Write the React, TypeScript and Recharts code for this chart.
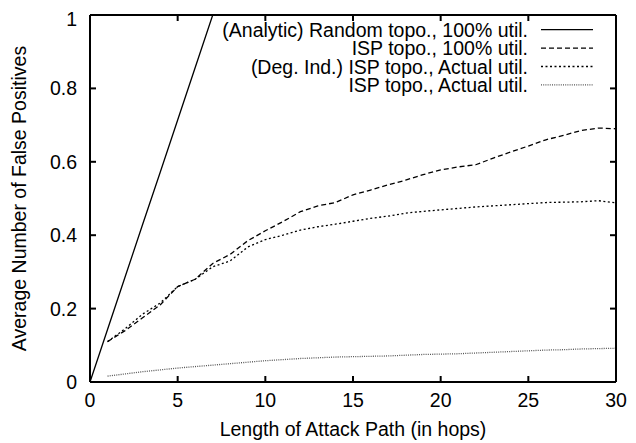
import { Label, Line, LineChart, XAxis, YAxis } from "recharts";

const hops = [0, 1, 2, 3, 4, 5, 6, 7, 8, 9, 10, 11, 12, 13, 14, 15, 16, 17, 18, 19, 20, 21, 22, 23, 24, 25, 26, 27, 28, 29, 30];

// analytic line only runs until it leaves the box at y = 1
const analytic = [0, 0.143, 0.286, 0.429, 0.571, 0.714, 0.857, 1.0];

// the simulated series start at hop 1
const isp100 = [0.11, 0.14, 0.175, 0.21, 0.26, 0.28, 0.323, 0.348, 0.385, 0.412, 0.437, 0.464, 0.48, 0.489, 0.51, 0.523, 0.537, 0.55, 0.565, 0.578, 0.586, 0.592, 0.61, 0.627, 0.643, 0.66, 0.672, 0.685, 0.692, 0.69];
const degInd = [0.11, 0.145, 0.185, 0.215, 0.26, 0.28, 0.314, 0.33, 0.368, 0.388, 0.4, 0.414, 0.423, 0.43, 0.438, 0.446, 0.452, 0.46, 0.465, 0.469, 0.473, 0.477, 0.48, 0.483, 0.486, 0.489, 0.49, 0.491, 0.494, 0.488];
const ispActual = [0.016, 0.022, 0.028, 0.033, 0.038, 0.042, 0.046, 0.05, 0.054, 0.058, 0.061, 0.064, 0.066, 0.068, 0.069, 0.07, 0.071, 0.073, 0.075, 0.076, 0.077, 0.079, 0.081, 0.083, 0.085, 0.087, 0.088, 0.09, 0.091, 0.092];

const xTicks = [0, 5, 10, 15, 20, 25, 30];
const yTicks = [0, 0.2, 0.4, 0.6, 0.8, 1];

const seriesNames = [
  "(Analytic) Random topo., 100% util.",
  "ISP topo., 100% util.",
  "(Deg. Ind.) ISP topo., Actual util.",
  "ISP topo., Actual util.",
];
const seriesDash = ["", "5 3", "2 2.5", "1 1.2"];
const seriesColor = ["#000", "#000", "#000", "#555"];

const data = hops.map((hop, i) => ({
  hop,
  analytic: i < analytic.length ? analytic[i] : null,
  isp100: i > 0 ? isp100[i - 1] : null,
  degInd: i > 0 ? degInd[i - 1] : null,
  ispActual: i > 0 ? ispActual[i - 1] : null,
}));

const keys = ["analytic", "isp100", "degInd", "ispActual"];
const FONT = "'Liberation Sans', Arial, Helvetica, sans-serif";
const FS = 19.5;
const noTick = () => <g />;

function LegendBox() {
  return (
    <svg width={620} height={100} style={{ position: "absolute", left: 0, top: 0, pointerEvents: "none" }}>
      {seriesNames.map((name, i) => {
        const base = 28.7 + i * 18.4;
        return (
          <g key={name}>
            <text x={520} y={base} textAnchor="end" fontSize={FS} fontFamily={FONT} fill="#000">
              {name}
            </text>
            <line
              x1={533}
              x2={585}
              y1={base - 7}
              y2={base - 7}
              stroke={seriesColor[i]}
              strokeWidth={1.3}
              strokeDasharray={seriesDash[i] || undefined}
            />
          </g>
        );
      })}
    </svg>
  );
}

export default function App() {
  const tickStyle = { fill: "#000", fontSize: FS, fontFamily: FONT };
  return (
    <div style={{ position: "relative", width: 620, height: 435, fontFamily: FONT }}>
      <LineChart width={620} height={435} data={data} margin={{ top: 0, right: 0, bottom: 0, left: 0 }}>
        <XAxis
          xAxisId="b"
          dataKey="hop"
          type="number"
          domain={[0, 30]}
          ticks={xTicks}
          height={61}
          tickSize={-6}
          tickMargin={17}
          stroke="#000"
          strokeWidth={2}
          tick={tickStyle}
        >
          <Label
            content={({ viewBox }: any) => (
              <text
                x={viewBox.x + viewBox.width / 2}
                y={viewBox.y + 54}
                textAnchor="middle"
                fontSize={FS}
                fontFamily={FONT}
                fill="#000"
              >
                Length of Attack Path (in hops)
              </text>
            )}
          />
        </XAxis>
        <XAxis
          xAxisId="t"
          orientation="top"
          dataKey="hop"
          type="number"
          domain={[0, 30]}
          ticks={xTicks}
          height={7}
          tickSize={-6}
          stroke="#000"
          strokeWidth={2}
          tick={noTick}
        />
        <YAxis
          yAxisId="l"
          type="number"
          domain={[0, 1]}
          ticks={yTicks}
          width={82}
          tickSize={-6}
          tickMargin={19}
          allowDataOverflow
          stroke="#000"
          strokeWidth={2}
          tick={tickStyle}
          tickFormatter={(v) => String(v)}
        >
          <Label
            content={({ viewBox }: any) => {
              const x = viewBox.x + 18;
              const y = viewBox.y + viewBox.height / 2;
              return (
                <text
                  x={x}
                  y={y}
                  transform={`rotate(-90 ${x} ${y})`}
                  textAnchor="middle"
                  fontSize={FS}
                  fontFamily={FONT}
                  fill="#000"
                >
                  Average Number of False Positives
                </text>
              );
            }}
          />
        </YAxis>
        <YAxis
          yAxisId="r"
          orientation="right"
          type="number"
          domain={[0, 1]}
          ticks={yTicks}
          width={12}
          tickSize={-6}
          allowDataOverflow
          stroke="#000"
          strokeWidth={2}
          tick={noTick}
        />
        {keys.map((k, i) => (
          <Line
            key={k}
            xAxisId="b"
            yAxisId="l"
            type="linear"
            dataKey={k}
            name={seriesNames[i]}
            stroke={seriesColor[i]}
            strokeWidth={1.3}
            strokeDasharray={seriesDash[i] || undefined}
            dot={false}
            activeDot={false}
            isAnimationActive={false}
          />
        ))}
      </LineChart>
      <LegendBox />
    </div>
  );
}
